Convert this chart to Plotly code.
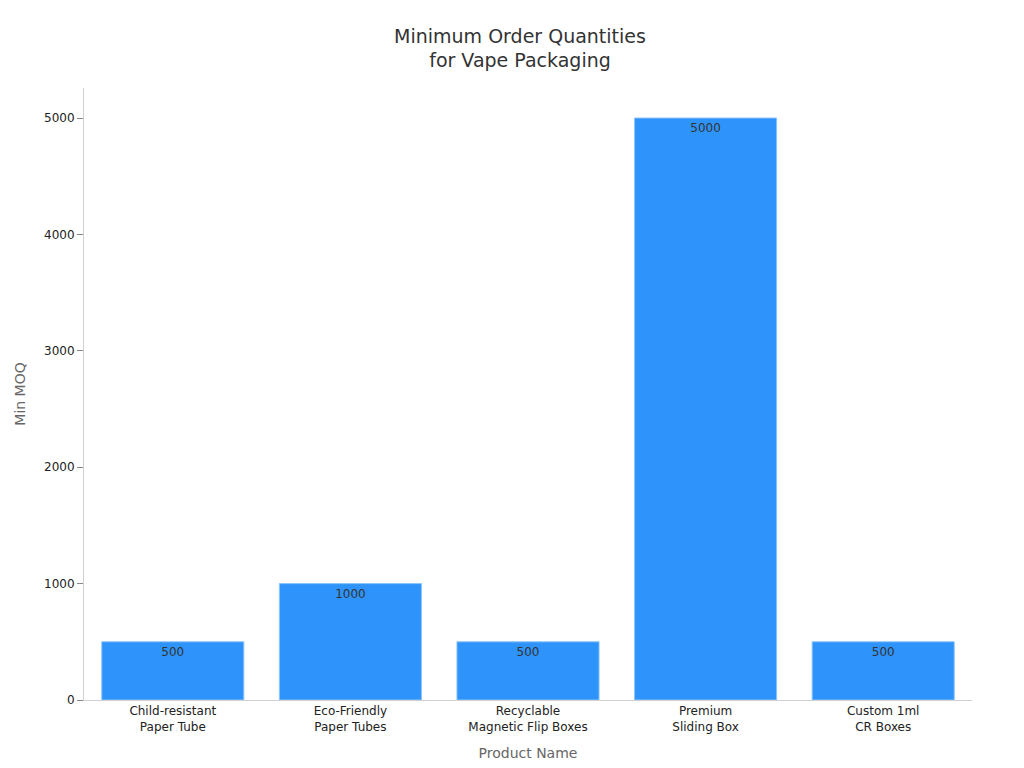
import plotly.graph_objects as go

categories = ["Child-resistant<br>Paper Tube", "Eco-Friendly<br>Paper Tubes", "Recyclable<br>Magnetic Flip Boxes", "Premium<br>Sliding Box", "Custom 1ml<br>CR Boxes"]
moq = [500, 1000, 500, 5000, 500]

fig = go.Figure(go.Bar(
    x=categories, y=moq, text=[str(v) for v in moq], textposition="inside",
    insidetextanchor="end", textfont=dict(color="#333333", size=12),
    marker=dict(color="#2E93FA", line=dict(color="#8cc4fb", width=1)), width=0.8,
))
fig.update_layout(
    width=1024, height=768, plot_bgcolor="white", paper_bgcolor="white",
    font=dict(family="DejaVu Sans, Noto Sans", size=12, color="#333333"),
    title=dict(text="Minimum Order Quantities<br>for Vape Packaging", x=0.5, xanchor="center", y=0.955, yanchor="top",
               font=dict(size=19, color="#333333")),
    margin=dict(l=76, r=60, t=80, b=76),
    showlegend=False,
)
fig.update_xaxes(title=dict(text="Product Name", font=dict(size=14, color="#666666")), showline=True, linecolor="#d0d0d0",
                 tickfont=dict(size=12, color="#222222"))
fig.update_yaxes(title=dict(text="Min MOQ", font=dict(size=14, color="#666666")), range=[0, 5258], showline=True,
                 linecolor="#d0d0d0", showgrid=False, ticks="outside", ticklen=6, tickcolor="#888888",
                 tickvals=[0, 1000, 2000, 3000, 4000, 5000], tickfont=dict(size=12, color="#222222"), zeroline=False)
fig.write_html("out.html")
